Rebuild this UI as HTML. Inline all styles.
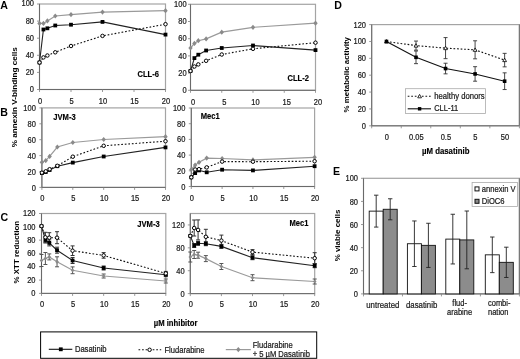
<!DOCTYPE html><html><head><meta charset="utf-8"><style>html,body{margin:0;padding:0;background:#fff;}svg{display:block;will-change:transform;}</style></head><body>
<svg width="520" height="359" viewBox="0 0 520 359" font-family="Liberation Sans, sans-serif">
<rect width="520" height="359" fill="#fff"/>
<text x="0.3" y="8.8" font-size="10.6" font-weight="bold" fill="#000">A</text>
<text x="0.2" y="115.6" font-size="10.6" font-weight="bold" fill="#000">B</text>
<text x="0.5" y="221.4" font-size="10.6" font-weight="bold" fill="#000">C</text>
<text x="334.2" y="8.9" font-size="10.6" font-weight="bold" fill="#000">D</text>
<text x="333.0" y="174.7" font-size="10.6" font-weight="bold" fill="#000">E</text>
<text transform="translate(17.2,97.2) scale(0.9 1) rotate(-90)" font-size="8.15" font-weight="bold" text-anchor="middle" fill="#000">% annexin V-binding cells</text>
<text transform="translate(19.3,252.2) scale(0.9 1) rotate(-90)" font-size="7.95" font-weight="bold" text-anchor="middle" fill="#000">% XTT reduction</text>
<text transform="translate(348.6,74.7) scale(0.9 1) rotate(-90)" font-size="7.9" font-weight="bold" text-anchor="middle" fill="#000">% metabolic activity</text>
<text transform="translate(340.0,235.5) scale(0.9 1) rotate(-90)" font-size="7.95" font-weight="bold" text-anchor="middle" fill="#000">% viable cells</text>
<rect x="39.5" y="4" width="126" height="85.5" fill="none" stroke="#a4a4a4" stroke-width="1.2"/>
<line x1="39.5" y1="4" x2="39.5" y2="89.5" stroke="#6a6a6a" stroke-width="1.0" />
<line x1="39.5" y1="89.5" x2="165.5" y2="89.5" stroke="#6a6a6a" stroke-width="1.0" />
<line x1="37" y1="89.5" x2="39.5" y2="89.5" stroke="#808080" stroke-width="0.8" />
<text transform="translate(34 91.9) scale(0.901 1)" font-size="8.33" text-anchor="end" fill="#1a1a1a" stroke="#1a1a1a" stroke-width="0.22" >0</text>
<line x1="37" y1="72.4" x2="39.5" y2="72.4" stroke="#808080" stroke-width="0.8" />
<text transform="translate(34 74.8) scale(0.901 1)" font-size="8.33" text-anchor="end" fill="#1a1a1a" stroke="#1a1a1a" stroke-width="0.22" >20</text>
<line x1="37" y1="55.3" x2="39.5" y2="55.3" stroke="#808080" stroke-width="0.8" />
<text transform="translate(34 57.7) scale(0.901 1)" font-size="8.33" text-anchor="end" fill="#1a1a1a" stroke="#1a1a1a" stroke-width="0.22" >40</text>
<line x1="37" y1="38.2" x2="39.5" y2="38.2" stroke="#808080" stroke-width="0.8" />
<text transform="translate(34 40.6) scale(0.901 1)" font-size="8.33" text-anchor="end" fill="#1a1a1a" stroke="#1a1a1a" stroke-width="0.22" >60</text>
<line x1="37" y1="21.1" x2="39.5" y2="21.1" stroke="#808080" stroke-width="0.8" />
<text transform="translate(34 23.5) scale(0.901 1)" font-size="8.33" text-anchor="end" fill="#1a1a1a" stroke="#1a1a1a" stroke-width="0.22" >80</text>
<line x1="37" y1="4" x2="39.5" y2="4" stroke="#808080" stroke-width="0.8" />
<text transform="translate(34 6.4) scale(0.901 1)" font-size="8.33" text-anchor="end" fill="#1a1a1a" stroke="#1a1a1a" stroke-width="0.22" >100</text>
<line x1="39.5" y1="89.5" x2="39.5" y2="92" stroke="#808080" stroke-width="0.8" />
<text transform="translate(40 103.6) scale(0.901 1)" font-size="8.33" text-anchor="middle" fill="#1a1a1a" stroke="#1a1a1a" stroke-width="0.22" >0</text>
<line x1="71" y1="89.5" x2="71" y2="92" stroke="#808080" stroke-width="0.8" />
<text transform="translate(71.5 103.6) scale(0.901 1)" font-size="8.33" text-anchor="middle" fill="#1a1a1a" stroke="#1a1a1a" stroke-width="0.22" >5</text>
<line x1="102.5" y1="89.5" x2="102.5" y2="92" stroke="#808080" stroke-width="0.8" />
<text transform="translate(103 103.6) scale(0.901 1)" font-size="8.33" text-anchor="middle" fill="#1a1a1a" stroke="#1a1a1a" stroke-width="0.22" >10</text>
<line x1="134" y1="89.5" x2="134" y2="92" stroke="#808080" stroke-width="0.8" />
<text transform="translate(134.5 103.6) scale(0.901 1)" font-size="8.33" text-anchor="middle" fill="#1a1a1a" stroke="#1a1a1a" stroke-width="0.22" >15</text>
<line x1="165.5" y1="89.5" x2="165.5" y2="92" stroke="#808080" stroke-width="0.8" />
<text transform="translate(166 103.6) scale(0.901 1)" font-size="8.33" text-anchor="middle" fill="#1a1a1a" stroke="#1a1a1a" stroke-width="0.22" >20</text>
<polyline points="39.5,23.4 43.44,23.4 47.38,20.9 55.25,16 71,14.6 102.5,12.1 165.5,10.7" fill="none" stroke="#9a9a9a" stroke-width="1.2" />
<polyline points="39.5,62.5 43.44,57.4 47.38,55.5 55.25,52.3 71,46 102.5,35.9 165.5,24.2" fill="none" stroke="#111" stroke-width="1.1" stroke-dasharray="1.7 1.85"/>
<polyline points="39.5,62.5 43.44,29.5 47.38,28.3 55.25,25.5 71,24.7 102.5,21.9 165.5,34.6" fill="none" stroke="#222" stroke-width="1.1" />
<path d="M39.5 20.8L41.7 23.4L39.5 26L37.3 23.4Z" fill="#8a8a8a"/>
<path d="M43.44 20.8L45.64 23.4L43.44 26L41.24 23.4Z" fill="#8a8a8a"/>
<path d="M47.38 18.3L49.58 20.9L47.38 23.5L45.17 20.9Z" fill="#8a8a8a"/>
<path d="M55.25 13.4L57.45 16L55.25 18.6L53.05 16Z" fill="#8a8a8a"/>
<path d="M71 12L73.2 14.6L71 17.2L68.8 14.6Z" fill="#8a8a8a"/>
<path d="M102.5 9.5L104.7 12.1L102.5 14.7L100.3 12.1Z" fill="#8a8a8a"/>
<path d="M165.5 8.1L167.7 10.7L165.5 13.3L163.3 10.7Z" fill="#8a8a8a"/>
<rect x="37.6" y="60.6" width="3.8" height="3.8" fill="#000"/>
<rect x="41.54" y="27.6" width="3.8" height="3.8" fill="#000"/>
<rect x="45.48" y="26.4" width="3.8" height="3.8" fill="#000"/>
<rect x="53.35" y="23.6" width="3.8" height="3.8" fill="#000"/>
<rect x="69.1" y="22.8" width="3.8" height="3.8" fill="#000"/>
<rect x="100.6" y="20" width="3.8" height="3.8" fill="#000"/>
<rect x="163.6" y="32.7" width="3.8" height="3.8" fill="#000"/>
<circle cx="39.5" cy="62.5" r="1.75" fill="#fff" stroke="#000" stroke-width="1.0"/>
<circle cx="43.44" cy="57.4" r="1.75" fill="#fff" stroke="#000" stroke-width="1.0"/>
<circle cx="47.38" cy="55.5" r="1.75" fill="#fff" stroke="#000" stroke-width="1.0"/>
<circle cx="55.25" cy="52.3" r="1.75" fill="#fff" stroke="#000" stroke-width="1.0"/>
<circle cx="71" cy="46" r="1.75" fill="#fff" stroke="#000" stroke-width="1.0"/>
<circle cx="102.5" cy="35.9" r="1.75" fill="#fff" stroke="#000" stroke-width="1.0"/>
<circle cx="165.5" cy="24.2" r="1.75" fill="#fff" stroke="#000" stroke-width="1.0"/>
<text transform="translate(137.5 77.1) scale(0.901 1)" font-size="8.44" text-anchor="start" font-weight="bold" fill="#000" stroke="#000" stroke-width="0.15" >CLL-6</text>
<rect x="190.5" y="4.3" width="125" height="86" fill="none" stroke="#a4a4a4" stroke-width="1.2"/>
<line x1="190.5" y1="4.3" x2="190.5" y2="90.3" stroke="#6a6a6a" stroke-width="1.0" />
<line x1="190.5" y1="90.3" x2="315.5" y2="90.3" stroke="#6a6a6a" stroke-width="1.0" />
<line x1="188" y1="90.3" x2="190.5" y2="90.3" stroke="#808080" stroke-width="0.8" />
<text transform="translate(186.6 93) scale(0.901 1)" font-size="8.33" text-anchor="end" fill="#1a1a1a" stroke="#1a1a1a" stroke-width="0.22" >0</text>
<line x1="188" y1="73.1" x2="190.5" y2="73.1" stroke="#808080" stroke-width="0.8" />
<text transform="translate(186.6 75.8) scale(0.901 1)" font-size="8.33" text-anchor="end" fill="#1a1a1a" stroke="#1a1a1a" stroke-width="0.22" >20</text>
<line x1="188" y1="55.9" x2="190.5" y2="55.9" stroke="#808080" stroke-width="0.8" />
<text transform="translate(186.6 58.6) scale(0.901 1)" font-size="8.33" text-anchor="end" fill="#1a1a1a" stroke="#1a1a1a" stroke-width="0.22" >40</text>
<line x1="188" y1="38.7" x2="190.5" y2="38.7" stroke="#808080" stroke-width="0.8" />
<text transform="translate(186.6 41.4) scale(0.901 1)" font-size="8.33" text-anchor="end" fill="#1a1a1a" stroke="#1a1a1a" stroke-width="0.22" >60</text>
<line x1="188" y1="21.5" x2="190.5" y2="21.5" stroke="#808080" stroke-width="0.8" />
<text transform="translate(186.6 24.2) scale(0.901 1)" font-size="8.33" text-anchor="end" fill="#1a1a1a" stroke="#1a1a1a" stroke-width="0.22" >80</text>
<line x1="188" y1="4.3" x2="190.5" y2="4.3" stroke="#808080" stroke-width="0.8" />
<text transform="translate(186.6 7) scale(0.901 1)" font-size="8.33" text-anchor="end" fill="#1a1a1a" stroke="#1a1a1a" stroke-width="0.22" >100</text>
<line x1="190.5" y1="90.3" x2="190.5" y2="92.8" stroke="#808080" stroke-width="0.8" />
<text transform="translate(193 104.7) scale(0.901 1)" font-size="8.33" text-anchor="middle" fill="#1a1a1a" stroke="#1a1a1a" stroke-width="0.22" >0</text>
<line x1="221.75" y1="90.3" x2="221.75" y2="92.8" stroke="#808080" stroke-width="0.8" />
<text transform="translate(224.25 104.7) scale(0.901 1)" font-size="8.33" text-anchor="middle" fill="#1a1a1a" stroke="#1a1a1a" stroke-width="0.22" >5</text>
<line x1="253" y1="90.3" x2="253" y2="92.8" stroke="#808080" stroke-width="0.8" />
<text transform="translate(255.5 104.7) scale(0.901 1)" font-size="8.33" text-anchor="middle" fill="#1a1a1a" stroke="#1a1a1a" stroke-width="0.22" >10</text>
<line x1="284.25" y1="90.3" x2="284.25" y2="92.8" stroke="#808080" stroke-width="0.8" />
<text transform="translate(286.75 104.7) scale(0.901 1)" font-size="8.33" text-anchor="middle" fill="#1a1a1a" stroke="#1a1a1a" stroke-width="0.22" >15</text>
<line x1="315.5" y1="90.3" x2="315.5" y2="92.8" stroke="#808080" stroke-width="0.8" />
<text transform="translate(318 104.7) scale(0.901 1)" font-size="8.33" text-anchor="middle" fill="#1a1a1a" stroke="#1a1a1a" stroke-width="0.22" >20</text>
<polyline points="190.5,48 194.41,43.4 198.31,40.7 206.12,38.9 221.75,32.2 253,27.3 315.5,23.2" fill="none" stroke="#9a9a9a" stroke-width="1.2" />
<polyline points="190.5,71 194.41,66.5 198.31,64.4 206.12,60.8 221.75,54.5 253,48.8 315.5,42.7" fill="none" stroke="#111" stroke-width="1.1" stroke-dasharray="1.7 1.85"/>
<polyline points="190.5,71 194.41,58.1 198.31,54.7 206.12,50.5 221.75,48 253,45.5 315.5,50.1" fill="none" stroke="#222" stroke-width="1.1" />
<path d="M190.5 45.4L192.7 48L190.5 50.6L188.3 48Z" fill="#8a8a8a"/>
<path d="M194.41 40.8L196.61 43.4L194.41 46L192.21 43.4Z" fill="#8a8a8a"/>
<path d="M198.31 38.1L200.51 40.7L198.31 43.3L196.11 40.7Z" fill="#8a8a8a"/>
<path d="M206.12 36.3L208.32 38.9L206.12 41.5L203.93 38.9Z" fill="#8a8a8a"/>
<path d="M221.75 29.6L223.95 32.2L221.75 34.8L219.55 32.2Z" fill="#8a8a8a"/>
<path d="M253 24.7L255.2 27.3L253 29.9L250.8 27.3Z" fill="#8a8a8a"/>
<path d="M315.5 20.6L317.7 23.2L315.5 25.8L313.3 23.2Z" fill="#8a8a8a"/>
<rect x="188.6" y="69.1" width="3.8" height="3.8" fill="#000"/>
<rect x="192.51" y="56.2" width="3.8" height="3.8" fill="#000"/>
<rect x="196.41" y="52.8" width="3.8" height="3.8" fill="#000"/>
<rect x="204.22" y="48.6" width="3.8" height="3.8" fill="#000"/>
<rect x="219.85" y="46.1" width="3.8" height="3.8" fill="#000"/>
<rect x="251.1" y="43.6" width="3.8" height="3.8" fill="#000"/>
<rect x="313.6" y="48.2" width="3.8" height="3.8" fill="#000"/>
<circle cx="190.5" cy="71" r="1.75" fill="#fff" stroke="#000" stroke-width="1.0"/>
<circle cx="194.41" cy="66.5" r="1.75" fill="#fff" stroke="#000" stroke-width="1.0"/>
<circle cx="198.31" cy="64.4" r="1.75" fill="#fff" stroke="#000" stroke-width="1.0"/>
<circle cx="206.12" cy="60.8" r="1.75" fill="#fff" stroke="#000" stroke-width="1.0"/>
<circle cx="221.75" cy="54.5" r="1.75" fill="#fff" stroke="#000" stroke-width="1.0"/>
<circle cx="253" cy="48.8" r="1.75" fill="#fff" stroke="#000" stroke-width="1.0"/>
<circle cx="315.5" cy="42.7" r="1.75" fill="#fff" stroke="#000" stroke-width="1.0"/>
<text transform="translate(287.4 80.6) scale(0.901 1)" font-size="8.44" text-anchor="start" font-weight="bold" fill="#000" stroke="#000" stroke-width="0.15" >CLL-2</text>
<rect x="41.9" y="107.9" width="123.6" height="79.5" fill="none" stroke="#a4a4a4" stroke-width="1.2"/>
<line x1="41.9" y1="107.9" x2="41.9" y2="187.4" stroke="#6a6a6a" stroke-width="1.0" />
<line x1="41.9" y1="187.4" x2="165.5" y2="187.4" stroke="#6a6a6a" stroke-width="1.0" />
<line x1="39.4" y1="187.4" x2="41.9" y2="187.4" stroke="#808080" stroke-width="0.8" />
<text transform="translate(35.8 190.7) scale(0.901 1)" font-size="8.33" text-anchor="end" fill="#1a1a1a" stroke="#1a1a1a" stroke-width="0.22" >0</text>
<line x1="39.4" y1="171.5" x2="41.9" y2="171.5" stroke="#808080" stroke-width="0.8" />
<text transform="translate(35.8 174.8) scale(0.901 1)" font-size="8.33" text-anchor="end" fill="#1a1a1a" stroke="#1a1a1a" stroke-width="0.22" >20</text>
<line x1="39.4" y1="155.6" x2="41.9" y2="155.6" stroke="#808080" stroke-width="0.8" />
<text transform="translate(35.8 158.9) scale(0.901 1)" font-size="8.33" text-anchor="end" fill="#1a1a1a" stroke="#1a1a1a" stroke-width="0.22" >40</text>
<line x1="39.4" y1="139.7" x2="41.9" y2="139.7" stroke="#808080" stroke-width="0.8" />
<text transform="translate(35.8 143) scale(0.901 1)" font-size="8.33" text-anchor="end" fill="#1a1a1a" stroke="#1a1a1a" stroke-width="0.22" >60</text>
<line x1="39.4" y1="123.8" x2="41.9" y2="123.8" stroke="#808080" stroke-width="0.8" />
<text transform="translate(35.8 127.1) scale(0.901 1)" font-size="8.33" text-anchor="end" fill="#1a1a1a" stroke="#1a1a1a" stroke-width="0.22" >80</text>
<line x1="39.4" y1="107.9" x2="41.9" y2="107.9" stroke="#808080" stroke-width="0.8" />
<text transform="translate(35.8 111.2) scale(0.901 1)" font-size="8.33" text-anchor="end" fill="#1a1a1a" stroke="#1a1a1a" stroke-width="0.22" >100</text>
<line x1="41.9" y1="187.4" x2="41.9" y2="189.9" stroke="#808080" stroke-width="0.8" />
<text transform="translate(42.4 200.9) scale(0.901 1)" font-size="8.33" text-anchor="middle" fill="#1a1a1a" stroke="#1a1a1a" stroke-width="0.22" >0</text>
<line x1="72.8" y1="187.4" x2="72.8" y2="189.9" stroke="#808080" stroke-width="0.8" />
<text transform="translate(73.3 200.9) scale(0.901 1)" font-size="8.33" text-anchor="middle" fill="#1a1a1a" stroke="#1a1a1a" stroke-width="0.22" >5</text>
<line x1="103.7" y1="187.4" x2="103.7" y2="189.9" stroke="#808080" stroke-width="0.8" />
<text transform="translate(104.2 200.9) scale(0.901 1)" font-size="8.33" text-anchor="middle" fill="#1a1a1a" stroke="#1a1a1a" stroke-width="0.22" >10</text>
<line x1="134.6" y1="187.4" x2="134.6" y2="189.9" stroke="#808080" stroke-width="0.8" />
<text transform="translate(135.1 200.9) scale(0.901 1)" font-size="8.33" text-anchor="middle" fill="#1a1a1a" stroke="#1a1a1a" stroke-width="0.22" >15</text>
<line x1="165.5" y1="187.4" x2="165.5" y2="189.9" stroke="#808080" stroke-width="0.8" />
<text transform="translate(166 200.9) scale(0.901 1)" font-size="8.33" text-anchor="middle" fill="#1a1a1a" stroke="#1a1a1a" stroke-width="0.22" >20</text>
<polyline points="41.9,162.3 45.76,160.6 49.62,156.4 57.35,147 72.8,142.5 103.7,139.5 165.5,136.7" fill="none" stroke="#9a9a9a" stroke-width="1.2" />
<polyline points="41.9,172.7 45.76,171.3 49.62,169.2 57.35,165.8 72.8,156.7 103.7,145.8 165.5,141.2" fill="none" stroke="#111" stroke-width="1.1" stroke-dasharray="1.7 1.85"/>
<polyline points="41.9,173.1 45.76,172 49.62,170 57.35,166.2 72.8,162.6 103.7,156.5 165.5,147.4" fill="none" stroke="#222" stroke-width="1.1" />
<path d="M41.9 159.7L44.1 162.3L41.9 164.9L39.7 162.3Z" fill="#8a8a8a"/>
<path d="M45.76 158L47.96 160.6L45.76 163.2L43.56 160.6Z" fill="#8a8a8a"/>
<path d="M49.62 153.8L51.83 156.4L49.62 159L47.42 156.4Z" fill="#8a8a8a"/>
<path d="M57.35 144.4L59.55 147L57.35 149.6L55.15 147Z" fill="#8a8a8a"/>
<path d="M72.8 139.9L75 142.5L72.8 145.1L70.6 142.5Z" fill="#8a8a8a"/>
<path d="M103.7 136.9L105.9 139.5L103.7 142.1L101.5 139.5Z" fill="#8a8a8a"/>
<path d="M165.5 134.1L167.7 136.7L165.5 139.3L163.3 136.7Z" fill="#8a8a8a"/>
<rect x="40" y="171.2" width="3.8" height="3.8" fill="#000"/>
<rect x="43.86" y="170.1" width="3.8" height="3.8" fill="#000"/>
<rect x="47.73" y="168.1" width="3.8" height="3.8" fill="#000"/>
<rect x="55.45" y="164.3" width="3.8" height="3.8" fill="#000"/>
<rect x="70.9" y="160.7" width="3.8" height="3.8" fill="#000"/>
<rect x="101.8" y="154.6" width="3.8" height="3.8" fill="#000"/>
<rect x="163.6" y="145.5" width="3.8" height="3.8" fill="#000"/>
<circle cx="41.9" cy="172.7" r="1.75" fill="#fff" stroke="#000" stroke-width="1.0"/>
<circle cx="45.76" cy="171.3" r="1.75" fill="#fff" stroke="#000" stroke-width="1.0"/>
<circle cx="49.62" cy="169.2" r="1.75" fill="#fff" stroke="#000" stroke-width="1.0"/>
<circle cx="57.35" cy="165.8" r="1.75" fill="#fff" stroke="#000" stroke-width="1.0"/>
<circle cx="72.8" cy="156.7" r="1.75" fill="#fff" stroke="#000" stroke-width="1.0"/>
<circle cx="103.7" cy="145.8" r="1.75" fill="#fff" stroke="#000" stroke-width="1.0"/>
<circle cx="165.5" cy="141.2" r="1.75" fill="#fff" stroke="#000" stroke-width="1.0"/>
<text transform="translate(53.3 119.9) scale(0.901 1)" font-size="8.44" text-anchor="start" font-weight="bold" fill="#000" stroke="#000" stroke-width="0.15" >JVM-3</text>
<rect x="191.3" y="108" width="123.3" height="78.5" fill="none" stroke="#a4a4a4" stroke-width="1.2"/>
<line x1="191.3" y1="108" x2="191.3" y2="186.5" stroke="#6a6a6a" stroke-width="1.0" />
<line x1="191.3" y1="186.5" x2="314.6" y2="186.5" stroke="#6a6a6a" stroke-width="1.0" />
<line x1="188.8" y1="186.5" x2="191.3" y2="186.5" stroke="#808080" stroke-width="0.8" />
<text transform="translate(185.4 189.5) scale(0.901 1)" font-size="8.33" text-anchor="end" fill="#1a1a1a" stroke="#1a1a1a" stroke-width="0.22" >0</text>
<line x1="188.8" y1="170.8" x2="191.3" y2="170.8" stroke="#808080" stroke-width="0.8" />
<text transform="translate(185.4 173.8) scale(0.901 1)" font-size="8.33" text-anchor="end" fill="#1a1a1a" stroke="#1a1a1a" stroke-width="0.22" >20</text>
<line x1="188.8" y1="155.1" x2="191.3" y2="155.1" stroke="#808080" stroke-width="0.8" />
<text transform="translate(185.4 158.1) scale(0.901 1)" font-size="8.33" text-anchor="end" fill="#1a1a1a" stroke="#1a1a1a" stroke-width="0.22" >40</text>
<line x1="188.8" y1="139.4" x2="191.3" y2="139.4" stroke="#808080" stroke-width="0.8" />
<text transform="translate(185.4 142.4) scale(0.901 1)" font-size="8.33" text-anchor="end" fill="#1a1a1a" stroke="#1a1a1a" stroke-width="0.22" >60</text>
<line x1="188.8" y1="123.7" x2="191.3" y2="123.7" stroke="#808080" stroke-width="0.8" />
<text transform="translate(185.4 126.7) scale(0.901 1)" font-size="8.33" text-anchor="end" fill="#1a1a1a" stroke="#1a1a1a" stroke-width="0.22" >80</text>
<line x1="188.8" y1="108" x2="191.3" y2="108" stroke="#808080" stroke-width="0.8" />
<text transform="translate(185.4 111) scale(0.901 1)" font-size="8.33" text-anchor="end" fill="#1a1a1a" stroke="#1a1a1a" stroke-width="0.22" >100</text>
<line x1="191.3" y1="186.5" x2="191.3" y2="189" stroke="#808080" stroke-width="0.8" />
<text transform="translate(191.8 200.9) scale(0.901 1)" font-size="8.33" text-anchor="middle" fill="#1a1a1a" stroke="#1a1a1a" stroke-width="0.22" >0</text>
<line x1="222.12" y1="186.5" x2="222.12" y2="189" stroke="#808080" stroke-width="0.8" />
<text transform="translate(222.62 200.9) scale(0.901 1)" font-size="8.33" text-anchor="middle" fill="#1a1a1a" stroke="#1a1a1a" stroke-width="0.22" >5</text>
<line x1="252.95" y1="186.5" x2="252.95" y2="189" stroke="#808080" stroke-width="0.8" />
<text transform="translate(253.45 200.9) scale(0.901 1)" font-size="8.33" text-anchor="middle" fill="#1a1a1a" stroke="#1a1a1a" stroke-width="0.22" >10</text>
<line x1="283.78" y1="186.5" x2="283.78" y2="189" stroke="#808080" stroke-width="0.8" />
<text transform="translate(284.28 200.9) scale(0.901 1)" font-size="8.33" text-anchor="middle" fill="#1a1a1a" stroke="#1a1a1a" stroke-width="0.22" >15</text>
<line x1="314.6" y1="186.5" x2="314.6" y2="189" stroke="#808080" stroke-width="0.8" />
<text transform="translate(315.1 200.9) scale(0.901 1)" font-size="8.33" text-anchor="middle" fill="#1a1a1a" stroke="#1a1a1a" stroke-width="0.22" >20</text>
<polyline points="191.3,169.5 195.15,165.1 199.01,162.3 206.71,158.1 222.12,158.5 252.95,159.9 314.6,157.3" fill="none" stroke="#9a9a9a" stroke-width="1.2" />
<polyline points="191.3,177.3 195.15,169.5 199.01,169.2 206.71,167.4 222.12,161.6 252.95,161.7 314.6,161.2" fill="none" stroke="#111" stroke-width="1.1" stroke-dasharray="1.7 1.85"/>
<polyline points="191.3,177.3 195.15,173.1 199.01,170.4 206.71,172.3 222.12,169.7 252.95,170.4 314.6,166.2" fill="none" stroke="#222" stroke-width="1.1" />
<path d="M191.3 166.9L193.5 169.5L191.3 172.1L189.1 169.5Z" fill="#8a8a8a"/>
<path d="M195.15 162.5L197.35 165.1L195.15 167.7L192.95 165.1Z" fill="#8a8a8a"/>
<path d="M199.01 159.7L201.21 162.3L199.01 164.9L196.81 162.3Z" fill="#8a8a8a"/>
<path d="M206.71 155.5L208.91 158.1L206.71 160.7L204.51 158.1Z" fill="#8a8a8a"/>
<path d="M222.12 155.9L224.32 158.5L222.12 161.1L219.93 158.5Z" fill="#8a8a8a"/>
<path d="M252.95 157.3L255.15 159.9L252.95 162.5L250.75 159.9Z" fill="#8a8a8a"/>
<path d="M314.6 154.7L316.8 157.3L314.6 159.9L312.4 157.3Z" fill="#8a8a8a"/>
<rect x="189.4" y="175.4" width="3.8" height="3.8" fill="#000"/>
<rect x="193.25" y="171.2" width="3.8" height="3.8" fill="#000"/>
<rect x="197.11" y="168.5" width="3.8" height="3.8" fill="#000"/>
<rect x="204.81" y="170.4" width="3.8" height="3.8" fill="#000"/>
<rect x="220.22" y="167.8" width="3.8" height="3.8" fill="#000"/>
<rect x="251.05" y="168.5" width="3.8" height="3.8" fill="#000"/>
<rect x="312.7" y="164.3" width="3.8" height="3.8" fill="#000"/>
<circle cx="191.3" cy="177.3" r="1.75" fill="#fff" stroke="#000" stroke-width="1.0"/>
<circle cx="195.15" cy="169.5" r="1.75" fill="#fff" stroke="#000" stroke-width="1.0"/>
<circle cx="199.01" cy="169.2" r="1.75" fill="#fff" stroke="#000" stroke-width="1.0"/>
<circle cx="206.71" cy="167.4" r="1.75" fill="#fff" stroke="#000" stroke-width="1.0"/>
<circle cx="222.12" cy="161.6" r="1.75" fill="#fff" stroke="#000" stroke-width="1.0"/>
<circle cx="252.95" cy="161.7" r="1.75" fill="#fff" stroke="#000" stroke-width="1.0"/>
<circle cx="314.6" cy="161.2" r="1.75" fill="#fff" stroke="#000" stroke-width="1.0"/>
<text transform="translate(200.8 118.7) scale(0.901 1)" font-size="8.44" text-anchor="start" font-weight="bold" fill="#000" stroke="#000" stroke-width="0.15" >Mec1</text>
<rect x="41.5" y="213.5" width="124.3" height="79.9" fill="none" stroke="#a4a4a4" stroke-width="1.2"/>
<line x1="41.5" y1="213.5" x2="41.5" y2="293.4" stroke="#6a6a6a" stroke-width="1.0" />
<line x1="41.5" y1="293.4" x2="165.8" y2="293.4" stroke="#6a6a6a" stroke-width="1.0" />
<line x1="39" y1="293.4" x2="41.5" y2="293.4" stroke="#808080" stroke-width="0.8" />
<text transform="translate(35.5 296.1) scale(0.901 1)" font-size="8.33" text-anchor="end" fill="#1a1a1a" stroke="#1a1a1a" stroke-width="0.22" >0</text>
<line x1="39" y1="280.08" x2="41.5" y2="280.08" stroke="#808080" stroke-width="0.8" />
<text transform="translate(35.5 282.78) scale(0.901 1)" font-size="8.33" text-anchor="end" fill="#1a1a1a" stroke="#1a1a1a" stroke-width="0.22" >20</text>
<line x1="39" y1="266.77" x2="41.5" y2="266.77" stroke="#808080" stroke-width="0.8" />
<text transform="translate(35.5 269.47) scale(0.901 1)" font-size="8.33" text-anchor="end" fill="#1a1a1a" stroke="#1a1a1a" stroke-width="0.22" >40</text>
<line x1="39" y1="253.45" x2="41.5" y2="253.45" stroke="#808080" stroke-width="0.8" />
<text transform="translate(35.5 256.15) scale(0.901 1)" font-size="8.33" text-anchor="end" fill="#1a1a1a" stroke="#1a1a1a" stroke-width="0.22" >60</text>
<line x1="39" y1="240.13" x2="41.5" y2="240.13" stroke="#808080" stroke-width="0.8" />
<text transform="translate(35.5 242.83) scale(0.901 1)" font-size="8.33" text-anchor="end" fill="#1a1a1a" stroke="#1a1a1a" stroke-width="0.22" >80</text>
<line x1="39" y1="226.82" x2="41.5" y2="226.82" stroke="#808080" stroke-width="0.8" />
<text transform="translate(35.5 229.52) scale(0.901 1)" font-size="8.33" text-anchor="end" fill="#1a1a1a" stroke="#1a1a1a" stroke-width="0.22" >100</text>
<line x1="39" y1="213.5" x2="41.5" y2="213.5" stroke="#808080" stroke-width="0.8" />
<text transform="translate(35.5 216.2) scale(0.901 1)" font-size="8.33" text-anchor="end" fill="#1a1a1a" stroke="#1a1a1a" stroke-width="0.22" >120</text>
<line x1="41.5" y1="293.4" x2="41.5" y2="295.9" stroke="#808080" stroke-width="0.8" />
<text transform="translate(42 306.9) scale(0.901 1)" font-size="8.33" text-anchor="middle" fill="#1a1a1a" stroke="#1a1a1a" stroke-width="0.22" >0</text>
<line x1="72.58" y1="293.4" x2="72.58" y2="295.9" stroke="#808080" stroke-width="0.8" />
<text transform="translate(73.08 306.9) scale(0.901 1)" font-size="8.33" text-anchor="middle" fill="#1a1a1a" stroke="#1a1a1a" stroke-width="0.22" >5</text>
<line x1="103.65" y1="293.4" x2="103.65" y2="295.9" stroke="#808080" stroke-width="0.8" />
<text transform="translate(104.15 306.9) scale(0.901 1)" font-size="8.33" text-anchor="middle" fill="#1a1a1a" stroke="#1a1a1a" stroke-width="0.22" >10</text>
<line x1="134.73" y1="293.4" x2="134.73" y2="295.9" stroke="#808080" stroke-width="0.8" />
<text transform="translate(135.23 306.9) scale(0.901 1)" font-size="8.33" text-anchor="middle" fill="#1a1a1a" stroke="#1a1a1a" stroke-width="0.22" >15</text>
<line x1="165.8" y1="293.4" x2="165.8" y2="295.9" stroke="#808080" stroke-width="0.8" />
<text transform="translate(166.3 306.9) scale(0.901 1)" font-size="8.33" text-anchor="middle" fill="#1a1a1a" stroke="#1a1a1a" stroke-width="0.22" >20</text>
<polyline points="41.5,260.5 45.38,258.5 49.27,256.9 57.04,261.8 72.58,270.3 103.65,276 165.8,281" fill="none" stroke="#9a9a9a" stroke-width="1.2" />
<polyline points="41.5,226.1 45.38,237.3 49.27,237.7 57.04,237.7 72.58,250.7 103.65,255.4 165.8,273.4" fill="none" stroke="#111" stroke-width="1.1" stroke-dasharray="1.7 1.85"/>
<polyline points="41.5,226.1 45.38,240 49.27,242.9 57.04,250.2 72.58,260.5 103.65,268 165.8,274.7" fill="none" stroke="#222" stroke-width="1.1" />
<line x1="41.5" y1="254.5" x2="41.5" y2="266.5" stroke="#555" stroke-width="1.0" />
<line x1="39.5" y1="254.5" x2="43.5" y2="254.5" stroke="#555" stroke-width="1.0" />
<line x1="39.5" y1="266.5" x2="43.5" y2="266.5" stroke="#555" stroke-width="1.0" />
<line x1="45.38" y1="252.5" x2="45.38" y2="264.5" stroke="#555" stroke-width="1.0" />
<line x1="43.38" y1="252.5" x2="47.38" y2="252.5" stroke="#555" stroke-width="1.0" />
<line x1="43.38" y1="264.5" x2="47.38" y2="264.5" stroke="#555" stroke-width="1.0" />
<line x1="49.27" y1="253.9" x2="49.27" y2="259.9" stroke="#555" stroke-width="1.0" />
<line x1="47.27" y1="253.9" x2="51.27" y2="253.9" stroke="#555" stroke-width="1.0" />
<line x1="47.27" y1="259.9" x2="51.27" y2="259.9" stroke="#555" stroke-width="1.0" />
<line x1="57.04" y1="256.8" x2="57.04" y2="266.8" stroke="#555" stroke-width="1.0" />
<line x1="55.04" y1="256.8" x2="59.04" y2="256.8" stroke="#555" stroke-width="1.0" />
<line x1="55.04" y1="266.8" x2="59.04" y2="266.8" stroke="#555" stroke-width="1.0" />
<line x1="72.58" y1="266.9" x2="72.58" y2="273.7" stroke="#555" stroke-width="1.0" />
<line x1="70.58" y1="266.9" x2="74.58" y2="266.9" stroke="#555" stroke-width="1.0" />
<line x1="70.58" y1="273.7" x2="74.58" y2="273.7" stroke="#555" stroke-width="1.0" />
<line x1="103.65" y1="274" x2="103.65" y2="278" stroke="#555" stroke-width="1.0" />
<line x1="101.65" y1="274" x2="105.65" y2="274" stroke="#555" stroke-width="1.0" />
<line x1="101.65" y1="278" x2="105.65" y2="278" stroke="#555" stroke-width="1.0" />
<line x1="165.8" y1="279" x2="165.8" y2="283" stroke="#555" stroke-width="1.0" />
<line x1="163.8" y1="279" x2="167.8" y2="279" stroke="#555" stroke-width="1.0" />
<line x1="163.8" y1="283" x2="167.8" y2="283" stroke="#555" stroke-width="1.0" />
<line x1="45.38" y1="232.3" x2="45.38" y2="242.3" stroke="#333" stroke-width="1.0" />
<line x1="43.38" y1="232.3" x2="47.38" y2="232.3" stroke="#333" stroke-width="1.0" />
<line x1="43.38" y1="242.3" x2="47.38" y2="242.3" stroke="#333" stroke-width="1.0" />
<line x1="49.27" y1="232.7" x2="49.27" y2="242.7" stroke="#333" stroke-width="1.0" />
<line x1="47.27" y1="232.7" x2="51.27" y2="232.7" stroke="#333" stroke-width="1.0" />
<line x1="47.27" y1="242.7" x2="51.27" y2="242.7" stroke="#333" stroke-width="1.0" />
<line x1="57.04" y1="231.7" x2="57.04" y2="243.7" stroke="#333" stroke-width="1.0" />
<line x1="55.04" y1="231.7" x2="59.04" y2="231.7" stroke="#333" stroke-width="1.0" />
<line x1="55.04" y1="243.7" x2="59.04" y2="243.7" stroke="#333" stroke-width="1.0" />
<line x1="72.58" y1="245.9" x2="72.58" y2="255.5" stroke="#333" stroke-width="1.0" />
<line x1="70.58" y1="245.9" x2="74.58" y2="245.9" stroke="#333" stroke-width="1.0" />
<line x1="70.58" y1="255.5" x2="74.58" y2="255.5" stroke="#333" stroke-width="1.0" />
<line x1="103.65" y1="252.6" x2="103.65" y2="258.2" stroke="#333" stroke-width="1.0" />
<line x1="101.65" y1="252.6" x2="105.65" y2="252.6" stroke="#333" stroke-width="1.0" />
<line x1="101.65" y1="258.2" x2="105.65" y2="258.2" stroke="#333" stroke-width="1.0" />
<line x1="165.8" y1="271.4" x2="165.8" y2="275.4" stroke="#333" stroke-width="1.0" />
<line x1="163.8" y1="271.4" x2="167.8" y2="271.4" stroke="#333" stroke-width="1.0" />
<line x1="163.8" y1="275.4" x2="167.8" y2="275.4" stroke="#333" stroke-width="1.0" />
<line x1="45.38" y1="237" x2="45.38" y2="243" stroke="#333" stroke-width="1.0" />
<line x1="43.38" y1="237" x2="47.38" y2="237" stroke="#333" stroke-width="1.0" />
<line x1="43.38" y1="243" x2="47.38" y2="243" stroke="#333" stroke-width="1.0" />
<line x1="49.27" y1="239.9" x2="49.27" y2="245.9" stroke="#333" stroke-width="1.0" />
<line x1="47.27" y1="239.9" x2="51.27" y2="239.9" stroke="#333" stroke-width="1.0" />
<line x1="47.27" y1="245.9" x2="51.27" y2="245.9" stroke="#333" stroke-width="1.0" />
<line x1="57.04" y1="247.2" x2="57.04" y2="253.2" stroke="#333" stroke-width="1.0" />
<line x1="55.04" y1="247.2" x2="59.04" y2="247.2" stroke="#333" stroke-width="1.0" />
<line x1="55.04" y1="253.2" x2="59.04" y2="253.2" stroke="#333" stroke-width="1.0" />
<line x1="72.58" y1="257.5" x2="72.58" y2="263.5" stroke="#333" stroke-width="1.0" />
<line x1="70.58" y1="257.5" x2="74.58" y2="257.5" stroke="#333" stroke-width="1.0" />
<line x1="70.58" y1="263.5" x2="74.58" y2="263.5" stroke="#333" stroke-width="1.0" />
<line x1="103.65" y1="266" x2="103.65" y2="270" stroke="#333" stroke-width="1.0" />
<line x1="101.65" y1="266" x2="105.65" y2="266" stroke="#333" stroke-width="1.0" />
<line x1="101.65" y1="270" x2="105.65" y2="270" stroke="#333" stroke-width="1.0" />
<line x1="165.8" y1="272.7" x2="165.8" y2="276.7" stroke="#333" stroke-width="1.0" />
<line x1="163.8" y1="272.7" x2="167.8" y2="272.7" stroke="#333" stroke-width="1.0" />
<line x1="163.8" y1="276.7" x2="167.8" y2="276.7" stroke="#333" stroke-width="1.0" />
<path d="M41.5 258.38L43.3 260.5L41.5 262.62L39.7 260.5Z" fill="#8a8a8a"/>
<path d="M45.38 256.38L47.18 258.5L45.38 260.62L43.58 258.5Z" fill="#8a8a8a"/>
<path d="M49.27 254.78L51.07 256.9L49.27 259.02L47.47 256.9Z" fill="#8a8a8a"/>
<path d="M57.04 259.68L58.84 261.8L57.04 263.92L55.24 261.8Z" fill="#8a8a8a"/>
<path d="M72.58 268.18L74.38 270.3L72.58 272.42L70.78 270.3Z" fill="#8a8a8a"/>
<path d="M103.65 273.88L105.45 276L103.65 278.12L101.85 276Z" fill="#8a8a8a"/>
<path d="M165.8 278.88L167.6 281L165.8 283.12L164 281Z" fill="#8a8a8a"/>
<rect x="39.6" y="224.2" width="3.8" height="3.8" fill="#000"/>
<rect x="43.48" y="238.1" width="3.8" height="3.8" fill="#000"/>
<rect x="47.37" y="241" width="3.8" height="3.8" fill="#000"/>
<rect x="55.14" y="248.3" width="3.8" height="3.8" fill="#000"/>
<rect x="70.67" y="258.6" width="3.8" height="3.8" fill="#000"/>
<rect x="101.75" y="266.1" width="3.8" height="3.8" fill="#000"/>
<rect x="163.9" y="272.8" width="3.8" height="3.8" fill="#000"/>
<circle cx="41.5" cy="226.1" r="1.75" fill="#fff" stroke="#000" stroke-width="1.0"/>
<circle cx="45.38" cy="237.3" r="1.75" fill="#fff" stroke="#000" stroke-width="1.0"/>
<circle cx="49.27" cy="237.7" r="1.75" fill="#fff" stroke="#000" stroke-width="1.0"/>
<circle cx="57.04" cy="237.7" r="1.75" fill="#fff" stroke="#000" stroke-width="1.0"/>
<circle cx="72.58" cy="250.7" r="1.75" fill="#fff" stroke="#000" stroke-width="1.0"/>
<circle cx="103.65" cy="255.4" r="1.75" fill="#fff" stroke="#000" stroke-width="1.0"/>
<circle cx="165.8" cy="273.4" r="1.75" fill="#fff" stroke="#000" stroke-width="1.0"/>
<text transform="translate(137.3 226.8) scale(0.901 1)" font-size="8.44" text-anchor="start" font-weight="bold" fill="#000" stroke="#000" stroke-width="0.15" >JVM-3</text>
<rect x="190.3" y="213.5" width="124.4" height="80.1" fill="none" stroke="#a4a4a4" stroke-width="1.2"/>
<line x1="190.3" y1="213.5" x2="190.3" y2="293.6" stroke="#6a6a6a" stroke-width="1.0" />
<line x1="190.3" y1="293.6" x2="314.7" y2="293.6" stroke="#6a6a6a" stroke-width="1.0" />
<line x1="187.8" y1="293.6" x2="190.3" y2="293.6" stroke="#808080" stroke-width="0.8" />
<text transform="translate(184.6 296.8) scale(0.901 1)" font-size="8.33" text-anchor="end" fill="#1a1a1a" stroke="#1a1a1a" stroke-width="0.22" >0</text>
<line x1="187.8" y1="270.71" x2="190.3" y2="270.71" stroke="#808080" stroke-width="0.8" />
<text transform="translate(184.6 273.91) scale(0.901 1)" font-size="8.33" text-anchor="end" fill="#1a1a1a" stroke="#1a1a1a" stroke-width="0.22" >40</text>
<line x1="187.8" y1="247.83" x2="190.3" y2="247.83" stroke="#808080" stroke-width="0.8" />
<text transform="translate(184.6 251.03) scale(0.901 1)" font-size="8.33" text-anchor="end" fill="#1a1a1a" stroke="#1a1a1a" stroke-width="0.22" >80</text>
<line x1="187.8" y1="224.94" x2="190.3" y2="224.94" stroke="#808080" stroke-width="0.8" />
<text transform="translate(184.6 228.14) scale(0.901 1)" font-size="8.33" text-anchor="end" fill="#1a1a1a" stroke="#1a1a1a" stroke-width="0.22" >120</text>
<line x1="190.3" y1="293.6" x2="190.3" y2="296.1" stroke="#808080" stroke-width="0.8" />
<text transform="translate(190.8 306.9) scale(0.901 1)" font-size="8.33" text-anchor="middle" fill="#1a1a1a" stroke="#1a1a1a" stroke-width="0.22" >0</text>
<line x1="221.4" y1="293.6" x2="221.4" y2="296.1" stroke="#808080" stroke-width="0.8" />
<text transform="translate(221.9 306.9) scale(0.901 1)" font-size="8.33" text-anchor="middle" fill="#1a1a1a" stroke="#1a1a1a" stroke-width="0.22" >5</text>
<line x1="252.5" y1="293.6" x2="252.5" y2="296.1" stroke="#808080" stroke-width="0.8" />
<text transform="translate(253 306.9) scale(0.901 1)" font-size="8.33" text-anchor="middle" fill="#1a1a1a" stroke="#1a1a1a" stroke-width="0.22" >10</text>
<line x1="283.6" y1="293.6" x2="283.6" y2="296.1" stroke="#808080" stroke-width="0.8" />
<text transform="translate(284.1 306.9) scale(0.901 1)" font-size="8.33" text-anchor="middle" fill="#1a1a1a" stroke="#1a1a1a" stroke-width="0.22" >15</text>
<line x1="314.7" y1="293.6" x2="314.7" y2="296.1" stroke="#808080" stroke-width="0.8" />
<text transform="translate(315.2 306.9) scale(0.901 1)" font-size="8.33" text-anchor="middle" fill="#1a1a1a" stroke="#1a1a1a" stroke-width="0.22" >20</text>
<polyline points="190.3,257 194.19,254.5 198.08,255.2 205.85,258.6 221.4,266.5 252.5,277.7 314.7,281.5" fill="none" stroke="#9a9a9a" stroke-width="1.2" />
<polyline points="190.3,235.9 194.19,228 198.08,229.9 205.85,236.8 221.4,240.6 252.5,252.1 314.7,258.2" fill="none" stroke="#111" stroke-width="1.1" stroke-dasharray="1.7 1.85"/>
<polyline points="190.3,235.9 194.19,245.5 198.08,243.3 205.85,243.7 221.4,246.4 252.5,257.7 314.7,265.7" fill="none" stroke="#222" stroke-width="1.1" />
<line x1="190.3" y1="252" x2="190.3" y2="262" stroke="#555" stroke-width="1.0" />
<line x1="188.3" y1="252" x2="192.3" y2="252" stroke="#555" stroke-width="1.0" />
<line x1="188.3" y1="262" x2="192.3" y2="262" stroke="#555" stroke-width="1.0" />
<line x1="194.19" y1="250.5" x2="194.19" y2="258.5" stroke="#555" stroke-width="1.0" />
<line x1="192.19" y1="250.5" x2="196.19" y2="250.5" stroke="#555" stroke-width="1.0" />
<line x1="192.19" y1="258.5" x2="196.19" y2="258.5" stroke="#555" stroke-width="1.0" />
<line x1="198.08" y1="252.2" x2="198.08" y2="258.2" stroke="#555" stroke-width="1.0" />
<line x1="196.08" y1="252.2" x2="200.08" y2="252.2" stroke="#555" stroke-width="1.0" />
<line x1="196.08" y1="258.2" x2="200.08" y2="258.2" stroke="#555" stroke-width="1.0" />
<line x1="205.85" y1="255.6" x2="205.85" y2="261.6" stroke="#555" stroke-width="1.0" />
<line x1="203.85" y1="255.6" x2="207.85" y2="255.6" stroke="#555" stroke-width="1.0" />
<line x1="203.85" y1="261.6" x2="207.85" y2="261.6" stroke="#555" stroke-width="1.0" />
<line x1="221.4" y1="263.5" x2="221.4" y2="269.5" stroke="#555" stroke-width="1.0" />
<line x1="219.4" y1="263.5" x2="223.4" y2="263.5" stroke="#555" stroke-width="1.0" />
<line x1="219.4" y1="269.5" x2="223.4" y2="269.5" stroke="#555" stroke-width="1.0" />
<line x1="252.5" y1="274.7" x2="252.5" y2="280.7" stroke="#555" stroke-width="1.0" />
<line x1="250.5" y1="274.7" x2="254.5" y2="274.7" stroke="#555" stroke-width="1.0" />
<line x1="250.5" y1="280.7" x2="254.5" y2="280.7" stroke="#555" stroke-width="1.0" />
<line x1="314.7" y1="279" x2="314.7" y2="284" stroke="#555" stroke-width="1.0" />
<line x1="312.7" y1="279" x2="316.7" y2="279" stroke="#555" stroke-width="1.0" />
<line x1="312.7" y1="284" x2="316.7" y2="284" stroke="#555" stroke-width="1.0" />
<line x1="194.19" y1="220" x2="194.19" y2="236" stroke="#333" stroke-width="1.0" />
<line x1="192.19" y1="220" x2="196.19" y2="220" stroke="#333" stroke-width="1.0" />
<line x1="192.19" y1="236" x2="196.19" y2="236" stroke="#333" stroke-width="1.0" />
<line x1="198.08" y1="219.9" x2="198.08" y2="239.9" stroke="#333" stroke-width="1.0" />
<line x1="196.08" y1="219.9" x2="200.08" y2="219.9" stroke="#333" stroke-width="1.0" />
<line x1="196.08" y1="239.9" x2="200.08" y2="239.9" stroke="#333" stroke-width="1.0" />
<line x1="205.85" y1="229.3" x2="205.85" y2="244.3" stroke="#333" stroke-width="1.0" />
<line x1="203.85" y1="229.3" x2="207.85" y2="229.3" stroke="#333" stroke-width="1.0" />
<line x1="203.85" y1="244.3" x2="207.85" y2="244.3" stroke="#333" stroke-width="1.0" />
<line x1="221.4" y1="235.1" x2="221.4" y2="246.1" stroke="#333" stroke-width="1.0" />
<line x1="219.4" y1="235.1" x2="223.4" y2="235.1" stroke="#333" stroke-width="1.0" />
<line x1="219.4" y1="246.1" x2="223.4" y2="246.1" stroke="#333" stroke-width="1.0" />
<line x1="252.5" y1="249.6" x2="252.5" y2="254.6" stroke="#333" stroke-width="1.0" />
<line x1="250.5" y1="249.6" x2="254.5" y2="249.6" stroke="#333" stroke-width="1.0" />
<line x1="250.5" y1="254.6" x2="254.5" y2="254.6" stroke="#333" stroke-width="1.0" />
<line x1="314.7" y1="252.7" x2="314.7" y2="263.7" stroke="#333" stroke-width="1.0" />
<line x1="312.7" y1="252.7" x2="316.7" y2="252.7" stroke="#333" stroke-width="1.0" />
<line x1="312.7" y1="263.7" x2="316.7" y2="263.7" stroke="#333" stroke-width="1.0" />
<line x1="194.19" y1="243.5" x2="194.19" y2="247.5" stroke="#333" stroke-width="1.0" />
<line x1="192.19" y1="243.5" x2="196.19" y2="243.5" stroke="#333" stroke-width="1.0" />
<line x1="192.19" y1="247.5" x2="196.19" y2="247.5" stroke="#333" stroke-width="1.0" />
<line x1="198.08" y1="241.3" x2="198.08" y2="245.3" stroke="#333" stroke-width="1.0" />
<line x1="196.08" y1="241.3" x2="200.08" y2="241.3" stroke="#333" stroke-width="1.0" />
<line x1="196.08" y1="245.3" x2="200.08" y2="245.3" stroke="#333" stroke-width="1.0" />
<line x1="205.85" y1="241.7" x2="205.85" y2="245.7" stroke="#333" stroke-width="1.0" />
<line x1="203.85" y1="241.7" x2="207.85" y2="241.7" stroke="#333" stroke-width="1.0" />
<line x1="203.85" y1="245.7" x2="207.85" y2="245.7" stroke="#333" stroke-width="1.0" />
<line x1="221.4" y1="244.4" x2="221.4" y2="248.4" stroke="#333" stroke-width="1.0" />
<line x1="219.4" y1="244.4" x2="223.4" y2="244.4" stroke="#333" stroke-width="1.0" />
<line x1="219.4" y1="248.4" x2="223.4" y2="248.4" stroke="#333" stroke-width="1.0" />
<line x1="252.5" y1="255.7" x2="252.5" y2="259.7" stroke="#333" stroke-width="1.0" />
<line x1="250.5" y1="255.7" x2="254.5" y2="255.7" stroke="#333" stroke-width="1.0" />
<line x1="250.5" y1="259.7" x2="254.5" y2="259.7" stroke="#333" stroke-width="1.0" />
<line x1="314.7" y1="263.7" x2="314.7" y2="267.7" stroke="#333" stroke-width="1.0" />
<line x1="312.7" y1="263.7" x2="316.7" y2="263.7" stroke="#333" stroke-width="1.0" />
<line x1="312.7" y1="267.7" x2="316.7" y2="267.7" stroke="#333" stroke-width="1.0" />
<path d="M190.3 254.88L192.1 257L190.3 259.12L188.5 257Z" fill="#8a8a8a"/>
<path d="M194.19 252.38L195.99 254.5L194.19 256.62L192.39 254.5Z" fill="#8a8a8a"/>
<path d="M198.08 253.08L199.88 255.2L198.08 257.32L196.28 255.2Z" fill="#8a8a8a"/>
<path d="M205.85 256.48L207.65 258.6L205.85 260.72L204.05 258.6Z" fill="#8a8a8a"/>
<path d="M221.4 264.38L223.2 266.5L221.4 268.62L219.6 266.5Z" fill="#8a8a8a"/>
<path d="M252.5 275.58L254.3 277.7L252.5 279.82L250.7 277.7Z" fill="#8a8a8a"/>
<path d="M314.7 279.38L316.5 281.5L314.7 283.62L312.9 281.5Z" fill="#8a8a8a"/>
<rect x="188.4" y="234" width="3.8" height="3.8" fill="#000"/>
<rect x="192.29" y="243.6" width="3.8" height="3.8" fill="#000"/>
<rect x="196.18" y="241.4" width="3.8" height="3.8" fill="#000"/>
<rect x="203.95" y="241.8" width="3.8" height="3.8" fill="#000"/>
<rect x="219.5" y="244.5" width="3.8" height="3.8" fill="#000"/>
<rect x="250.6" y="255.8" width="3.8" height="3.8" fill="#000"/>
<rect x="312.8" y="263.8" width="3.8" height="3.8" fill="#000"/>
<circle cx="190.3" cy="235.9" r="1.75" fill="#fff" stroke="#000" stroke-width="1.0"/>
<circle cx="194.19" cy="228" r="1.75" fill="#fff" stroke="#000" stroke-width="1.0"/>
<circle cx="198.08" cy="229.9" r="1.75" fill="#fff" stroke="#000" stroke-width="1.0"/>
<circle cx="205.85" cy="236.8" r="1.75" fill="#fff" stroke="#000" stroke-width="1.0"/>
<circle cx="221.4" cy="240.6" r="1.75" fill="#fff" stroke="#000" stroke-width="1.0"/>
<circle cx="252.5" cy="252.1" r="1.75" fill="#fff" stroke="#000" stroke-width="1.0"/>
<circle cx="314.7" cy="258.2" r="1.75" fill="#fff" stroke="#000" stroke-width="1.0"/>
<text transform="translate(289.4 225.8) scale(0.901 1)" font-size="8.44" text-anchor="start" font-weight="bold" fill="#000" stroke="#000" stroke-width="0.15" >Mec1</text>
<text transform="translate(175.6 325.6) scale(0.901 1)" font-size="8.55" text-anchor="middle" font-weight="bold" fill="#000" stroke="#000" stroke-width="0.15" >µM inhibitor</text>
<rect x="40.6" y="331.9" width="276.1" height="26.4" fill="#fff" stroke="#000" stroke-width="1"/>
<line x1="48.8" y1="349.3" x2="72.3" y2="349.3" stroke="#111" stroke-width="1.1" />
<rect x="58.9" y="347.4" width="3.8" height="3.8" fill="#000"/>
<text transform="translate(74.9 352) scale(0.901 1)" font-size="8.44" text-anchor="start" fill="#1a1a1a" stroke="#1a1a1a" stroke-width="0.22" >Dasatinib</text>
<line x1="138.5" y1="349.8" x2="161.2" y2="349.8" stroke="#111" stroke-width="1.1" stroke-dasharray="1.7 1.85"/>
<circle cx="149.6" cy="349.8" r="1.75" fill="#fff" stroke="#000" stroke-width="1.0"/>
<text transform="translate(164.4 352.5) scale(0.901 1)" font-size="8.44" text-anchor="start" fill="#1a1a1a" stroke="#1a1a1a" stroke-width="0.22" >Fludarabine</text>
<line x1="225.8" y1="349.6" x2="250.8" y2="349.6" stroke="#9a9a9a" stroke-width="1.2" />
<path d="M238.3 347L240.5 349.6L238.3 352.2L236.1 349.6Z" fill="#8a8a8a"/>
<text transform="translate(252.7 347.6) scale(0.901 1)" font-size="8.44" text-anchor="start" fill="#1a1a1a" stroke="#1a1a1a" stroke-width="0.22" >Fludarabine</text>
<text transform="translate(252.7 356.8) scale(0.901 1)" font-size="8.44" text-anchor="start" fill="#1a1a1a" stroke="#1a1a1a" stroke-width="0.22" >+ 5 µM Dasatinib</text>
<rect x="371.7" y="24.6" width="147.7" height="101.2" fill="none" stroke="#a4a4a4" stroke-width="1.2"/>
<line x1="371.7" y1="24.6" x2="371.7" y2="125.8" stroke="#6a6a6a" stroke-width="1.0" />
<line x1="371.7" y1="125.8" x2="519.4" y2="125.8" stroke="#6a6a6a" stroke-width="1.0" />
<line x1="519.4" y1="24.6" x2="519.4" y2="125.8" stroke="#777" stroke-width="1.1" />
<line x1="369.2" y1="125.8" x2="371.7" y2="125.8" stroke="#808080" stroke-width="0.8" />
<text transform="translate(366 128.8) scale(0.901 1)" font-size="8.33" text-anchor="end" fill="#1a1a1a" stroke="#1a1a1a" stroke-width="0.22" >0</text>
<line x1="369.2" y1="108.93" x2="371.7" y2="108.93" stroke="#808080" stroke-width="0.8" />
<text transform="translate(366 111.93) scale(0.901 1)" font-size="8.33" text-anchor="end" fill="#1a1a1a" stroke="#1a1a1a" stroke-width="0.22" >20</text>
<line x1="369.2" y1="92.07" x2="371.7" y2="92.07" stroke="#808080" stroke-width="0.8" />
<text transform="translate(366 95.07) scale(0.901 1)" font-size="8.33" text-anchor="end" fill="#1a1a1a" stroke="#1a1a1a" stroke-width="0.22" >40</text>
<line x1="369.2" y1="75.2" x2="371.7" y2="75.2" stroke="#808080" stroke-width="0.8" />
<text transform="translate(366 78.2) scale(0.901 1)" font-size="8.33" text-anchor="end" fill="#1a1a1a" stroke="#1a1a1a" stroke-width="0.22" >60</text>
<line x1="369.2" y1="58.33" x2="371.7" y2="58.33" stroke="#808080" stroke-width="0.8" />
<text transform="translate(366 61.33) scale(0.901 1)" font-size="8.33" text-anchor="end" fill="#1a1a1a" stroke="#1a1a1a" stroke-width="0.22" >80</text>
<line x1="369.2" y1="41.47" x2="371.7" y2="41.47" stroke="#808080" stroke-width="0.8" />
<text transform="translate(366 44.47) scale(0.901 1)" font-size="8.33" text-anchor="end" fill="#1a1a1a" stroke="#1a1a1a" stroke-width="0.22" >100</text>
<line x1="369.2" y1="24.6" x2="371.7" y2="24.6" stroke="#808080" stroke-width="0.8" />
<text transform="translate(366 27.6) scale(0.901 1)" font-size="8.33" text-anchor="end" fill="#1a1a1a" stroke="#1a1a1a" stroke-width="0.22" >120</text>
<line x1="371.7" y1="125.8" x2="371.7" y2="128.3" stroke="#808080" stroke-width="0.8" />
<line x1="401.24" y1="125.8" x2="401.24" y2="128.3" stroke="#808080" stroke-width="0.8" />
<line x1="430.78" y1="125.8" x2="430.78" y2="128.3" stroke="#808080" stroke-width="0.8" />
<line x1="460.32" y1="125.8" x2="460.32" y2="128.3" stroke="#808080" stroke-width="0.8" />
<line x1="489.86" y1="125.8" x2="489.86" y2="128.3" stroke="#808080" stroke-width="0.8" />
<line x1="519.4" y1="125.8" x2="519.4" y2="128.3" stroke="#808080" stroke-width="0.8" />
<text transform="translate(386.77 140.2) scale(0.901 1)" font-size="8.33" text-anchor="middle" fill="#1a1a1a" stroke="#1a1a1a" stroke-width="0.22" >0</text>
<text transform="translate(416.31 140.2) scale(0.901 1)" font-size="8.33" text-anchor="middle" fill="#1a1a1a" stroke="#1a1a1a" stroke-width="0.22" >0.05</text>
<text transform="translate(445.85 140.2) scale(0.901 1)" font-size="8.33" text-anchor="middle" fill="#1a1a1a" stroke="#1a1a1a" stroke-width="0.22" >0.5</text>
<text transform="translate(475.39 140.2) scale(0.901 1)" font-size="8.33" text-anchor="middle" fill="#1a1a1a" stroke="#1a1a1a" stroke-width="0.22" >5</text>
<text transform="translate(504.93 140.2) scale(0.901 1)" font-size="8.33" text-anchor="middle" fill="#1a1a1a" stroke="#1a1a1a" stroke-width="0.22" >50</text>
<text transform="translate(445.7 154.3) scale(0.901 1)" font-size="8.66" text-anchor="middle" font-weight="bold" fill="#000" stroke="#000" stroke-width="0.15" >µM dasatinib</text>
<polyline points="386.47,41.47 416.01,45.6 445.55,48.13 475.09,49.82 504.63,60.1" fill="none" stroke="#111" stroke-width="1.1" stroke-dasharray="1.7 1.85"/>
<polyline points="386.47,41.47 416.01,57.32 445.55,68.54 475.09,73.94 504.63,81.19" fill="none" stroke="#111" stroke-width="1.1" />
<line x1="416.01" y1="41.05" x2="416.01" y2="50.15" stroke="#333" stroke-width="0.9" />
<line x1="414.01" y1="41.05" x2="418.01" y2="41.05" stroke="#333" stroke-width="0.9" />
<line x1="414.01" y1="50.15" x2="418.01" y2="50.15" stroke="#333" stroke-width="0.9" />
<line x1="416.01" y1="51" x2="416.01" y2="63.65" stroke="#333" stroke-width="0.9" />
<line x1="414.01" y1="51" x2="418.01" y2="51" stroke="#333" stroke-width="0.9" />
<line x1="414.01" y1="63.65" x2="418.01" y2="63.65" stroke="#333" stroke-width="0.9" />
<line x1="445.55" y1="37.59" x2="445.55" y2="58.67" stroke="#333" stroke-width="0.9" />
<line x1="443.55" y1="37.59" x2="447.55" y2="37.59" stroke="#333" stroke-width="0.9" />
<line x1="443.55" y1="58.67" x2="447.55" y2="58.67" stroke="#333" stroke-width="0.9" />
<line x1="445.55" y1="63.22" x2="445.55" y2="73.85" stroke="#333" stroke-width="0.9" />
<line x1="443.55" y1="63.22" x2="447.55" y2="63.22" stroke="#333" stroke-width="0.9" />
<line x1="443.55" y1="73.85" x2="447.55" y2="73.85" stroke="#333" stroke-width="0.9" />
<line x1="475.09" y1="40.79" x2="475.09" y2="58.84" stroke="#333" stroke-width="0.9" />
<line x1="473.09" y1="40.79" x2="477.09" y2="40.79" stroke="#333" stroke-width="0.9" />
<line x1="473.09" y1="58.84" x2="477.09" y2="58.84" stroke="#333" stroke-width="0.9" />
<line x1="475.09" y1="66.68" x2="475.09" y2="81.19" stroke="#333" stroke-width="0.9" />
<line x1="473.09" y1="66.68" x2="477.09" y2="66.68" stroke="#333" stroke-width="0.9" />
<line x1="473.09" y1="81.19" x2="477.09" y2="81.19" stroke="#333" stroke-width="0.9" />
<line x1="504.63" y1="53.36" x2="504.63" y2="66.85" stroke="#333" stroke-width="0.9" />
<line x1="502.63" y1="53.36" x2="506.63" y2="53.36" stroke="#333" stroke-width="0.9" />
<line x1="502.63" y1="66.85" x2="506.63" y2="66.85" stroke="#333" stroke-width="0.9" />
<line x1="504.63" y1="72.84" x2="504.63" y2="89.54" stroke="#333" stroke-width="0.9" />
<line x1="502.63" y1="72.84" x2="506.63" y2="72.84" stroke="#333" stroke-width="0.9" />
<line x1="502.63" y1="89.54" x2="506.63" y2="89.54" stroke="#333" stroke-width="0.9" />
<path d="M386.47 39.57L388.37 42.99L384.57 42.99Z" fill="#fff" stroke="#000" stroke-width="0.8"/>
<path d="M416.01 43.7L417.91 47.12L414.11 47.12Z" fill="#fff" stroke="#000" stroke-width="0.8"/>
<path d="M445.55 46.23L447.45 49.65L443.65 49.65Z" fill="#fff" stroke="#000" stroke-width="0.8"/>
<path d="M475.09 47.92L476.99 51.34L473.19 51.34Z" fill="#fff" stroke="#000" stroke-width="0.8"/>
<path d="M504.63 58.2L506.53 61.62L502.73 61.62Z" fill="#fff" stroke="#000" stroke-width="0.8"/>
<rect x="384.67" y="39.67" width="3.6" height="3.6" fill="#000"/>
<rect x="414.21" y="55.52" width="3.6" height="3.6" fill="#000"/>
<rect x="443.75" y="66.74" width="3.6" height="3.6" fill="#000"/>
<rect x="473.29" y="72.14" width="3.6" height="3.6" fill="#000"/>
<rect x="502.83" y="79.39" width="3.6" height="3.6" fill="#000"/>
<rect x="405.4" y="88.7" width="80.2" height="24.8" fill="#fff" stroke="#aaa" stroke-width="0.8"/>
<line x1="407.7" y1="96.3" x2="430.8" y2="96.3" stroke="#111" stroke-width="1.1" stroke-dasharray="1.7 1.85"/>
<path d="M419.6 94.4L421.5 97.82L417.7 97.82Z" fill="#fff" stroke="#000" stroke-width="0.8"/>
<text transform="translate(434.2 99) scale(0.901 1)" font-size="8.55" text-anchor="start" fill="#1a1a1a" stroke="#1a1a1a" stroke-width="0.22" >healthy donors</text>
<line x1="407.7" y1="108.8" x2="431" y2="108.8" stroke="#111" stroke-width="1.1" />
<rect x="417.9" y="107.1" width="3.4" height="3.4" fill="#000"/>
<text transform="translate(434.2 111.4) scale(0.901 1)" font-size="8.33" text-anchor="start" fill="#1a1a1a" stroke="#1a1a1a" stroke-width="0.22" >CLL-11</text>
<rect x="363.5" y="178.3" width="155.9" height="115.6" fill="none" stroke="#a4a4a4" stroke-width="1.2"/>
<line x1="363.5" y1="178.3" x2="363.5" y2="293.9" stroke="#6a6a6a" stroke-width="1.0" />
<line x1="363.5" y1="293.9" x2="519.4" y2="293.9" stroke="#6a6a6a" stroke-width="1.0" />
<line x1="519.4" y1="178.3" x2="519.4" y2="293.9" stroke="#777" stroke-width="1.1" />
<line x1="361" y1="293.9" x2="363.5" y2="293.9" stroke="#808080" stroke-width="0.8" />
<text transform="translate(358 297) scale(0.901 1)" font-size="8.33" text-anchor="end" fill="#1a1a1a" stroke="#1a1a1a" stroke-width="0.22" >0</text>
<line x1="361" y1="270.78" x2="363.5" y2="270.78" stroke="#808080" stroke-width="0.8" />
<text transform="translate(358 273.88) scale(0.901 1)" font-size="8.33" text-anchor="end" fill="#1a1a1a" stroke="#1a1a1a" stroke-width="0.22" >20</text>
<line x1="361" y1="247.66" x2="363.5" y2="247.66" stroke="#808080" stroke-width="0.8" />
<text transform="translate(358 250.76) scale(0.901 1)" font-size="8.33" text-anchor="end" fill="#1a1a1a" stroke="#1a1a1a" stroke-width="0.22" >40</text>
<line x1="361" y1="224.54" x2="363.5" y2="224.54" stroke="#808080" stroke-width="0.8" />
<text transform="translate(358 227.64) scale(0.901 1)" font-size="8.33" text-anchor="end" fill="#1a1a1a" stroke="#1a1a1a" stroke-width="0.22" >60</text>
<line x1="361" y1="201.42" x2="363.5" y2="201.42" stroke="#808080" stroke-width="0.8" />
<text transform="translate(358 204.52) scale(0.901 1)" font-size="8.33" text-anchor="end" fill="#1a1a1a" stroke="#1a1a1a" stroke-width="0.22" >80</text>
<line x1="361" y1="178.3" x2="363.5" y2="178.3" stroke="#808080" stroke-width="0.8" />
<text transform="translate(358 181.4) scale(0.901 1)" font-size="8.33" text-anchor="end" fill="#1a1a1a" stroke="#1a1a1a" stroke-width="0.22" >100</text>
<line x1="363.5" y1="293.9" x2="363.5" y2="296.4" stroke="#808080" stroke-width="0.8" />
<line x1="402.48" y1="293.9" x2="402.48" y2="296.4" stroke="#808080" stroke-width="0.8" />
<line x1="441.45" y1="293.9" x2="441.45" y2="296.4" stroke="#808080" stroke-width="0.8" />
<line x1="480.42" y1="293.9" x2="480.42" y2="296.4" stroke="#808080" stroke-width="0.8" />
<line x1="519.4" y1="293.9" x2="519.4" y2="296.4" stroke="#808080" stroke-width="0.8" />
<rect x="369.2" y="211.13" width="14" height="82.77" fill="#fff" stroke="#111" stroke-width="0.9"/>
<rect x="383.2" y="209.28" width="14" height="84.62" fill="#8c8c8c" stroke="#111" stroke-width="0.9"/>
<line x1="376.2" y1="195.18" x2="376.2" y2="227.08" stroke="#222" stroke-width="0.9" />
<line x1="374" y1="195.18" x2="378.4" y2="195.18" stroke="#222" stroke-width="0.9" />
<line x1="374" y1="227.08" x2="378.4" y2="227.08" stroke="#222" stroke-width="0.9" />
<line x1="390.2" y1="198.76" x2="390.2" y2="219.8" stroke="#222" stroke-width="0.9" />
<line x1="388" y1="198.76" x2="392.4" y2="198.76" stroke="#222" stroke-width="0.9" />
<line x1="388" y1="219.8" x2="392.4" y2="219.8" stroke="#222" stroke-width="0.9" />
<rect x="407.4" y="243.73" width="14" height="50.17" fill="#fff" stroke="#111" stroke-width="0.9"/>
<rect x="421.4" y="245.35" width="14" height="48.55" fill="#8c8c8c" stroke="#111" stroke-width="0.9"/>
<line x1="414.4" y1="220.96" x2="414.4" y2="266.5" stroke="#222" stroke-width="0.9" />
<line x1="412.2" y1="220.96" x2="416.6" y2="220.96" stroke="#222" stroke-width="0.9" />
<line x1="412.2" y1="266.5" x2="416.6" y2="266.5" stroke="#222" stroke-width="0.9" />
<line x1="428.4" y1="223.27" x2="428.4" y2="267.43" stroke="#222" stroke-width="0.9" />
<line x1="426.2" y1="223.27" x2="430.6" y2="223.27" stroke="#222" stroke-width="0.9" />
<line x1="426.2" y1="267.43" x2="430.6" y2="267.43" stroke="#222" stroke-width="0.9" />
<rect x="445.8" y="239.11" width="14" height="54.79" fill="#fff" stroke="#111" stroke-width="0.9"/>
<rect x="459.8" y="239.91" width="14" height="53.99" fill="#8c8c8c" stroke="#111" stroke-width="0.9"/>
<line x1="452.8" y1="214.25" x2="452.8" y2="263.96" stroke="#222" stroke-width="0.9" />
<line x1="450.6" y1="214.25" x2="455" y2="214.25" stroke="#222" stroke-width="0.9" />
<line x1="450.6" y1="263.96" x2="455" y2="263.96" stroke="#222" stroke-width="0.9" />
<line x1="466.8" y1="211.01" x2="466.8" y2="268.81" stroke="#222" stroke-width="0.9" />
<line x1="464.6" y1="211.01" x2="469" y2="211.01" stroke="#222" stroke-width="0.9" />
<line x1="464.6" y1="268.81" x2="469" y2="268.81" stroke="#222" stroke-width="0.9" />
<rect x="485.3" y="254.83" width="14" height="39.07" fill="#fff" stroke="#111" stroke-width="0.9"/>
<rect x="499.3" y="262.34" width="14" height="31.56" fill="#8c8c8c" stroke="#111" stroke-width="0.9"/>
<line x1="492.3" y1="237.02" x2="492.3" y2="272.63" stroke="#222" stroke-width="0.9" />
<line x1="490.1" y1="237.02" x2="494.5" y2="237.02" stroke="#222" stroke-width="0.9" />
<line x1="490.1" y1="272.63" x2="494.5" y2="272.63" stroke="#222" stroke-width="0.9" />
<line x1="506.3" y1="247.2" x2="506.3" y2="277.48" stroke="#222" stroke-width="0.9" />
<line x1="504.1" y1="247.2" x2="508.5" y2="247.2" stroke="#222" stroke-width="0.9" />
<line x1="504.1" y1="277.48" x2="508.5" y2="277.48" stroke="#222" stroke-width="0.9" />
<text transform="translate(382.8 307.8) scale(0.901 1)" font-size="8.71" text-anchor="middle" fill="#1a1a1a" stroke="#1a1a1a" stroke-width="0.22" >untreated</text>
<text transform="translate(421.6 307.6) scale(0.901 1)" font-size="8.71" text-anchor="middle" fill="#1a1a1a" stroke="#1a1a1a" stroke-width="0.22" >dasatinib</text>
<text transform="translate(459.6 305.8) scale(0.901 1)" font-size="8.33" text-anchor="middle" fill="#1a1a1a" stroke="#1a1a1a" stroke-width="0.22" >flud-</text>
<text transform="translate(459.6 315.3) scale(0.901 1)" font-size="8.33" text-anchor="middle" fill="#1a1a1a" stroke="#1a1a1a" stroke-width="0.22" >arabine</text>
<text transform="translate(499.2 305.8) scale(0.901 1)" font-size="8.33" text-anchor="middle" fill="#1a1a1a" stroke="#1a1a1a" stroke-width="0.22" >combi-</text>
<text transform="translate(498.2 315.3) scale(0.901 1)" font-size="8.33" text-anchor="middle" fill="#1a1a1a" stroke="#1a1a1a" stroke-width="0.22" >nation</text>
<rect x="472.1" y="182.4" width="45.5" height="24" fill="#fff" stroke="#aaa" stroke-width="0.8"/>
<rect x="475" y="186.9" width="4" height="4" fill="#fff" stroke="#111" stroke-width="1"/>
<rect x="475" y="199.3" width="4" height="4" fill="#8c8c8c" stroke="#111" stroke-width="1"/>
<text transform="translate(481.8 191.6) scale(0.901 1)" font-size="8.44" text-anchor="start" fill="#1a1a1a" stroke="#1a1a1a" stroke-width="0.22" >annexin V</text>
<text transform="translate(481.8 203.8) scale(0.901 1)" font-size="8.44" text-anchor="start" fill="#1a1a1a" stroke="#1a1a1a" stroke-width="0.22" >DiOC6</text>
</svg></body></html>
